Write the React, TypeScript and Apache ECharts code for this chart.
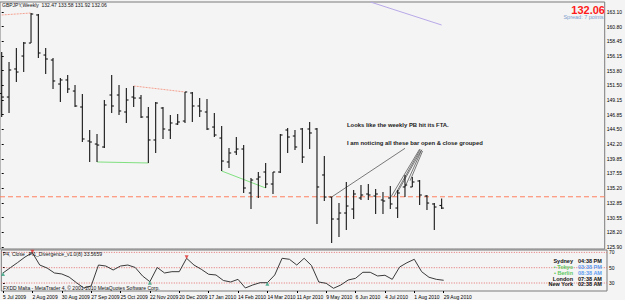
import React, { useEffect, useRef } from 'react';
import * as echarts from 'echarts';

// ---- data ----
const DATE_LABELS = ['5 Jul 2009', '2 Aug 2009', '30 Aug 2009', '27 Sep 2009', '25 Oct 2009', '22 Nov 2009', '20 Dec 2009', '17 Jan 2010', '14 Feb 2010', '14 Mar 2010', '11 Apr 2010', '9 May 2010', '6 Jun 2010', '4 Jul 2010', '1 Aug 2010', '29 Aug 2010'];
const DATE_TICK_IDX = [0, 4, 8, 12, 16, 20, 24, 28, 32, 36, 40, 44, 48, 52, 56, 60];

const OPEN = [150.20, 149.64, 154.08, 156.13, 158.19, 162.63, 156.29, 155.50, 151.70, 152.34, 150.59, 148.06, 142.68, 142.20, 141.73, 149.96, 149.96, 147.27, 149.64, 149.48, 146.48, 142.84, 147.90, 144.42, 145.37, 145.84, 150.28, 148.22, 147.27, 144.89, 143.15, 139.36, 140.94, 141.41, 134.45, 136.66, 137.77, 135.87, 137.77, 144.42, 143.47, 144.58, 144.58, 144.58, 137.30, 133.81, 130.33, 131.28, 131.91, 133.66, 134.29, 133.97, 133.34, 133.66, 132.07, 135.40, 135.40, 136.35, 133.97, 132.71, 132.47];
const HIGH = [156.77, 155.18, 157.40, 158.35, 162.94, 162.78, 157.40, 155.82, 152.65, 153.13, 151.54, 150.12, 144.42, 143.79, 149.17, 153.13, 151.54, 151.07, 151.39, 149.96, 148.06, 148.85, 148.06, 146.79, 146.95, 150.44, 150.44, 149.48, 149.33, 147.11, 145.05, 141.57, 143.31, 142.04, 136.82, 137.77, 139.20, 137.77, 143.79, 144.74, 144.42, 144.74, 145.69, 144.74, 140.30, 133.81, 132.86, 136.19, 134.92, 135.71, 135.87, 135.08, 134.61, 135.56, 134.92, 137.30, 136.98, 136.50, 134.13, 132.86, 133.58];
const LOW = [146.48, 147.11, 152.02, 153.60, 158.19, 155.82, 153.29, 150.91, 148.85, 150.28, 148.06, 142.52, 139.36, 139.36, 141.57, 147.11, 146.79, 145.53, 148.06, 146.32, 139.20, 140.78, 143.00, 143.00, 145.21, 145.53, 145.69, 146.48, 144.42, 143.31, 137.93, 138.41, 140.46, 134.45, 131.91, 133.66, 135.24, 134.29, 137.61, 140.78, 141.25, 139.20, 141.41, 129.54, 133.18, 126.53, 127.48, 128.59, 130.33, 133.34, 133.34, 131.12, 131.12, 131.91, 130.49, 133.81, 135.40, 132.55, 131.75, 128.59, 131.92];
const CLOSE = [149.64, 153.92, 153.60, 158.19, 162.78, 156.61, 155.66, 152.18, 152.34, 150.91, 148.22, 143.00, 142.52, 142.04, 148.38, 148.22, 147.43, 149.17, 149.48, 146.48, 142.84, 148.69, 144.58, 145.53, 145.69, 150.44, 148.22, 147.43, 144.58, 143.63, 139.51, 140.78, 141.41, 135.24, 136.50, 136.98, 135.87, 137.77, 143.63, 143.31, 141.73, 140.14, 143.95, 135.40, 133.81, 130.33, 131.28, 132.39, 134.29, 134.13, 134.13, 134.29, 133.18, 132.71, 134.45, 135.71, 136.19, 134.13, 132.86, 132.23, 132.06];

const INDICATOR = [43.1, 50.0, 56.8, 64.0, 69.6, 53.5, 49.6, 43.1, 41.8, 37.8, 30.4, 23.5, 26.1, 53.5, 52.2, 47.0, 52.2, 53.5, 50.3, 39.2, 31.7, 50.3, 43.1, 44.8, 44.8, 62.3, 53.5, 47.9, 41.4, 40.5, 33.3, 31.3, 34.8, 23.5, 27.4, 30.4, 30.4, 40.5, 62.3, 61.0, 53.5, 62.3, 52.9, 31.3, 29.6, 23.1, 27.4, 33.9, 36.1, 44.0, 44.0, 39.2, 40.1, 34.8, 50.9, 56.5, 61.0, 44.8, 37.5, 34.8, 33.57];
const IND_PEAKS = [4, 25];
const IND_TROUGHS = [0, 20, 36];
const IND_LEVELS = [70, 50, 30];

const PRICE_TICKS = [125.90, 128.20, 130.55, 132.85, 135.20, 137.55, 139.85, 142.20, 144.50, 146.85, 149.15, 151.50, 153.80, 156.15, 158.45, 160.80, 163.10];
const LEVEL_PRICE = 133.85;
const LAST_PRICE = 132.06;

// trendlines: [idx, price] pairs
const GREEN_LINES = [[[13, 139.36], [20, 139.20]], [[30, 137.93], [36, 135.24]]];
const RED_LINES = [[[0, 162.63], [4, 162.94]], [[18, 151.39], [25, 150.44]]];
const PURPLE_LINE = [[50.3, 164.68], [60, 161.04]];
const NOTE_LINES = [
  [[55.0, 141.52], [45, 133.81]],
  [[57.0, 141.40], [53, 133.66]],
  [[57.1, 141.35], [53.5, 133.9]],
  [[57.2, 141.2], [54, 134.6]],
  [[57.3, 141.3], [55, 135.4]],
  [[57.4, 141.1], [55.7, 136.4]],
];

const X_MIN = -0.231;
const X_MAX = 82.24;

export default function App() {
  const ref = useRef<HTMLDivElement>(null);
  useEffect(() => {
    if (!ref.current) return;
    const chart = echarts.init(ref.current, null, { renderer: 'svg' });
    const bars = OPEN.map((o, i) => [i, o, HIGH[i], LOW[i], CLOSE[i]]);
    const font = '"Liberation Sans", Arial, sans-serif';
    const lineSeries = (pts: number[][], color: string, type: any, width = 1) => ({
      type: 'line', xAxisIndex: 0, yAxisIndex: 0, data: pts, showSymbol: false, symbol: 'none', color,
      lineStyle: { color, width, type }, silent: true, z: 3, clip: true,
    });
    const option: any = {
      animation: false,
      backgroundColor: '#f4f4f4',
      textStyle: { fontFamily: font },
      grid: [
        { left: 0, right: 18, top: 2, height: 247, show: true, borderColor: '#7a7a7a', borderWidth: 1, backgroundColor: 'transparent' },
        { left: 0, right: 18, top: 250, height: 41, show: true, borderColor: '#7a7a7a', borderWidth: 1, backgroundColor: 'transparent' },
      ],
      xAxis: [
        { type: 'value', gridIndex: 0, min: X_MIN, max: X_MAX, axisLine: { show: false }, axisTick: { show: false }, axisLabel: { show: false }, splitLine: { show: false } },
        {
          type: 'value', gridIndex: 1, min: X_MIN, max: X_MAX, axisLine: { show: false },
          axisTick: { show: true, customValues: DATE_TICK_IDX, length: 2, lineStyle: { color: '#000' } },
          axisLabel: { show: true, customValues: DATE_TICK_IDX, fontSize: 5, color: '#000', margin: 3, align: 'left', formatter: (v: number) => DATE_LABELS[DATE_TICK_IDX.indexOf(Math.round(v))] || '' },
          splitLine: { show: false },
        },
      ],
      yAxis: [
        {
          type: 'value', gridIndex: 0, position: 'right', min: 125.583, max: 164.683, axisLine: { show: false },
          axisTick: { show: true, customValues: PRICE_TICKS, length: 2, lineStyle: { color: '#000' } },
          axisLabel: { show: true, customValues: PRICE_TICKS, fontSize: 5, color: '#000', margin: 2, formatter: (v: number) => v.toFixed(2) },
          splitLine: { show: false },
        },
        {
          type: 'value', gridIndex: 1, position: 'right', min: 19.55, max: 73.13, axisLine: { show: false },
          axisTick: { show: true, customValues: IND_LEVELS, length: 2, lineStyle: { color: '#000' } },
          axisLabel: { show: true, customValues: IND_LEVELS, fontSize: 5, color: '#000', margin: 2, formatter: (v: number) => String(v) },
          splitLine: { show: false },
        },
      ],
      series: [
        {
          type: 'custom', xAxisIndex: 0, yAxisIndex: 0, data: bars, encode: { x: 0, y: [1, 2, 3, 4] }, z: 5, clip: true,
          renderItem: (params: any, api: any) => {
            const i = api.value(0);
            const o = api.coord([i, api.value(1)]);
            const h = api.coord([i, api.value(2)]);
            const l = api.coord([i, api.value(3)]);
            const c = api.coord([i, api.value(4)]);
            const style = { stroke: '#151515', lineWidth: 1.1 };
            return {
              type: 'group', children: [
                { type: 'line', shape: { x1: h[0], y1: h[1], x2: l[0], y2: l[1] }, style },
                { type: 'line', shape: { x1: o[0] - 2.2, y1: o[1], x2: o[0], y2: o[1] }, style },
                { type: 'line', shape: { x1: c[0], y1: c[1], x2: c[0] + 2.2, y2: c[1] }, style },
              ],
            };
          },
        },
        // dashed horizontal level line
        {
          type: 'line', xAxisIndex: 0, yAxisIndex: 0, data: [[X_MIN, LEVEL_PRICE], [X_MAX, LEVEL_PRICE]], showSymbol: false, symbol: 'none', silent: true,
          color: '#ff8060', lineStyle: { color: '#ff8060', type: [5, 3], width: 1 }, z: 2,
        },
        // right-axis price tags
        {
          type: 'line', xAxisIndex: 0, yAxisIndex: 0, data: [], symbol: 'none', silent: true, color: 'rgba(0,0,0,0)',
          markLine: {
            silent: true, symbol: 'none', animation: false,
            lineStyle: { color: 'rgba(0,0,0,0)', opacity: 0, width: 0 },
            data: [
              { yAxis: LEVEL_PRICE, label: { show: true, position: 'end', distance: 1, formatter: LEVEL_PRICE.toFixed(2), color: '#fff', backgroundColor: '#ff5a2a', fontSize: 5, padding: [0, 3, 0, 1] } },
              { yAxis: LAST_PRICE, label: { show: true, position: 'end', distance: 1, formatter: LAST_PRICE.toFixed(2), color: '#fff', backgroundColor: '#000', fontSize: 5, padding: [0, 3, 0, 1] } },
            ],
          },
        },
        ...GREEN_LINES.map((p) => lineSeries(p, '#80e080', 'solid')),
        ...RED_LINES.map((p) => lineSeries(p, '#f4a090', [2, 1])),
        lineSeries(PURPLE_LINE, '#b8a8e8', 'solid'),
        ...NOTE_LINES.map((p) => lineSeries(p, '#444', 'solid', 0.7)),
        {
          type: 'line', xAxisIndex: 1, yAxisIndex: 1, data: INDICATOR.map((v, i) => [i, v]), showSymbol: false, symbol: 'none',
          color: '#3a3a3a', lineStyle: { color: '#3a3a3a', width: 1 }, z: 4,
        },
        ...IND_LEVELS.map((v) => ({
          type: 'line', xAxisIndex: 1, yAxisIndex: 1, data: [[X_MIN, v], [X_MAX, v]], showSymbol: false, symbol: 'none', silent: true,
          color: '#e57070', lineStyle: { color: '#e57070', type: [1, 1.5], width: 1 }, z: 2,
        })),
        {
          type: 'scatter', xAxisIndex: 1, yAxisIndex: 1, symbol: 'triangle', symbolRotate: 180, symbolSize: 4, z: 6,
          itemStyle: { color: '#e03030' }, data: IND_PEAKS.map((i) => [i, INDICATOR[i]]), symbolOffset: [0, -1],
        },
        {
          type: 'scatter', xAxisIndex: 1, yAxisIndex: 1, symbol: 'triangle', symbolSize: 4, z: 6,
          itemStyle: { color: '#2fa080' }, data: IND_TROUGHS.map((i) => [i, INDICATOR[i]]), symbolOffset: [0, 1],
        },
      ],
      graphic: [
        { type: 'text', x: 2, y: 2, style: { text: 'GBPJPY,Weekly  132.47 133.58 131.92 132.06', fill: '#111', font: `5px ${font}`, textVerticalAlign: 'top', verticalAlign: 'top' } },
        { type: 'text', x: 605, y: 4, style: { text: '132.06', fill: '#ff1a1a', font: `bold 11px ${font}`, textAlign: 'right', align: 'right', textVerticalAlign: 'top', verticalAlign: 'top' } },
        { type: 'text', x: 605, y: 14, style: { text: 'Spread: 7 points.', fill: '#7a9ccc', font: `5.5px ${font}`, textAlign: 'right', align: 'right', textVerticalAlign: 'top', verticalAlign: 'top' } },
        { type: 'text', x: 347, y: 125, z: 10, style: { text: 'Looks like the weekly PB hit its FTA.', fill: '#222', font: `bold 5.9px ${font}`, textVerticalAlign: 'middle', verticalAlign: 'middle' } },
        { type: 'text', x: 347, y: 142.7, z: 10, style: { text: 'I am noticing all these bar open & close grouped', fill: '#222', font: `bold 5.9px ${font}`, textVerticalAlign: 'middle', verticalAlign: 'middle' } },
        { type: 'text', x: 3, y: 254, z: 10, style: { text: 'P4, Close   FI1_Divergence_v1.0(8) 33.5659', fill: '#111', font: `5px ${font}`, textVerticalAlign: 'middle', verticalAlign: 'middle' } },
        { type: 'text', x: 3, y: 288, z: 10, style: { text: 'FXDD Malta - MetaTrader 4, © 2001-2010 MetaQuotes Software Corp.', fill: '#111', font: `5px ${font}`, textVerticalAlign: 'middle', verticalAlign: 'middle' } },
        ...[
          ['Sydney', '04:38 PM', '#111', '#111', 260.7],
          ['• Tokyo', '03:38 PM', '#5cc85c', '#5f9cf0', 266.7],
          ['• Berlin', '08:38 AM', '#5cc85c', '#5f9cf0', 272.7],
          ['London', '07:38 AM', '#111', '#111', 278.7],
          ['New York', '02:38 AM', '#111', '#111', 284.3],
        ].flatMap(([a, b, ca, cb, y]) => [
          { type: 'text', x: 573, y: y as number, z: 10, style: { text: a, fill: ca, font: `bold 5.5px ${font}`, textAlign: 'right', align: 'right', textVerticalAlign: 'middle', verticalAlign: 'middle' } },
          { type: 'text', x: 578, y: y as number, z: 10, style: { text: b, fill: cb, font: `bold 5.5px ${font}`, textVerticalAlign: 'middle', verticalAlign: 'middle' } },
        ]),
      ],
    };
    chart.setOption(option);
    return () => chart.dispose();
  }, []);
  return <div ref={ref} style={{ position: 'fixed', left: 0, top: 0, width: 625, height: 300 }} />;
}
